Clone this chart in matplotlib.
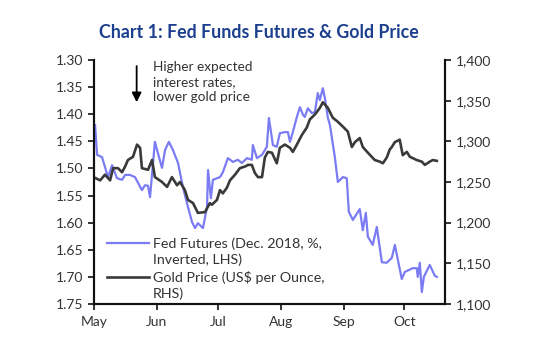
import matplotlib
matplotlib.use("Agg")
import matplotlib.pyplot as plt
from matplotlib.lines import Line2D
import pandas as pd

# Fed funds futures (Dec. 2018, %, inverted) -- day offsets from 1 May 2017
fed_days = [0.5, 1.5, 3.9, 6.9, 8.9, 11.3, 13.8, 15.3, 17.7, 20.2, 23.6, 25.1, 26.6, 27.6,
            30.0, 31.5, 33.5, 35.0, 36.9, 38.9, 41.4, 43.8, 46.3, 48.3, 49.8, 51.2, 53.7,
            55.7, 56.2, 57.6, 58.6, 62.1, 63.5, 66.0, 68.5, 70.9, 72.9, 75.4, 77.8, 78.3,
            80.3, 82.8, 85.2, 86.2, 88.2, 90.1, 91.6, 94.1, 95.6, 96.6, 98.0, 100.0, 101.5,
            103.0, 103.9, 105.4, 107.4, 108.9, 110.3, 111.3, 112.8, 113.8, 115.3, 116.3,
            118.7, 120.2, 122.7, 124.6, 125.6, 127.6, 131.0, 132.5, 134.0, 135.0, 137.4,
            139.4, 141.9, 144.3, 146.8, 148.3, 151.7, 153.2, 157.1, 159.1, 159.6, 160.6,
            161.6, 162.6, 165.5, 168.0, 169.0]
fed_vals = [1.420, 1.475, 1.479, 1.516, 1.494, 1.518, 1.521, 1.512, 1.512, 1.516, 1.540, 1.531,
            1.532, 1.553, 1.451, 1.472, 1.499, 1.466, 1.451, 1.466, 1.490, 1.534, 1.571, 1.599,
            1.610, 1.601, 1.610, 1.571, 1.503, 1.555, 1.521, 1.516, 1.507, 1.481, 1.488, 1.484,
            1.490, 1.481, 1.484, 1.457, 1.481, 1.475, 1.460, 1.407, 1.457, 1.460, 1.435, 1.433,
            1.433, 1.451, 1.433, 1.405, 1.387, 1.401, 1.405, 1.389, 1.398, 1.396, 1.361, 1.374,
            1.352, 1.370, 1.407, 1.420, 1.479, 1.525, 1.516, 1.518, 1.580, 1.595, 1.575, 1.614,
            1.582, 1.626, 1.641, 1.608, 1.673, 1.674, 1.665, 1.641, 1.704, 1.691, 1.684, 1.684,
            1.700, 1.674, 1.728, 1.700, 1.678, 1.698, 1.700]

# Gold price (US$ per ounce) -- day offsets from 1 May 2017
gold_days = [0.5, 3.0, 5.4, 7.9, 9.4, 11.8, 13.8, 15.3, 16.7, 19.2, 21.2, 22.7, 23.6, 26.6,
             28.6, 30.0, 33.5, 36.0, 38.4, 40.9, 42.4, 44.8, 46.3, 48.8, 51.2, 54.7, 57.1,
             58.1, 60.6, 62.1, 63.5, 65.5, 67.0, 69.5, 71.9, 74.4, 75.9, 77.8, 79.3, 80.8,
             82.8, 84.2, 85.7, 87.7, 90.1, 91.6, 94.1, 96.6, 98.0, 100.0, 102.5, 104.9, 106.4,
             108.9, 111.3, 112.8, 115.3, 117.7, 120.2, 122.7, 125.1, 127.1, 128.6, 131.0,
             132.5, 135.0, 138.4, 140.9, 142.4, 144.3, 145.8, 146.8, 148.3, 150.7, 152.2,
             154.2, 155.7, 159.1, 161.6, 163.1, 165.5, 167.0, 169.0]
gold_vals = [1255, 1252, 1259, 1252, 1267, 1267, 1262, 1269, 1277, 1281, 1296, 1292, 1267, 1265,
             1277, 1256, 1250, 1244, 1256, 1246, 1250, 1240, 1228, 1224, 1212, 1213, 1224, 1222,
             1228, 1240, 1236, 1243, 1252, 1259, 1267, 1269, 1271, 1271, 1261, 1256, 1256, 1280,
             1287, 1286, 1273, 1292, 1296, 1292, 1287, 1296, 1308, 1317, 1327, 1333, 1341, 1348,
             1341, 1329, 1324, 1318, 1312, 1293, 1299, 1304, 1293, 1286, 1277, 1275, 1273, 1280,
             1290, 1293, 1299, 1302, 1283, 1287, 1281, 1277, 1275, 1271, 1275, 1277, 1276]

start_date = "2017-05-01"
month_ticks = ["2017-05-01", "2017-06-01", "2017-07-01", "2017-08-01", "2017-09-01", "2017-10-01"]
month_labels = ["May", "Jun", "Jul", "Aug", "Sep", "Oct"]
left_ticks = [1.30, 1.35, 1.40, 1.45, 1.50, 1.55, 1.60, 1.65, 1.70, 1.75]
right_ticks = [1100, 1150, 1200, 1250, 1300, 1350, 1400]

title = "Chart 1: Fed Funds Futures & Gold Price"
fed_label = ["Fed Futures (Dec. 2018, %,", "Inverted, LHS)"]
gold_label = ["Gold Price (US$ per Ounce,", "RHS)"]
note = "Higher expected\ninterest rates,\nlower gold price"

plt.rcParams['font.family'] = ['Lato', 'DejaVu Sans']

base = pd.Timestamp(start_date)
fed_x = [base + pd.Timedelta(days=d) for d in fed_days]
gold_x = [base + pd.Timedelta(days=d) for d in gold_days]

fig = plt.figure(figsize=(5.5, 3.4), dpi=100)
ax = fig.add_axes([0.171, 0.106, 0.638, 0.7175])
ax2 = ax.twinx()

blue = '#7b7cf4'
dark = '#3a3a3a'

l1, = ax.plot(fed_x, fed_vals, color=blue, lw=1.6)
l2, = ax2.plot(gold_x, gold_vals, color=dark, lw=1.9)

ax.set_ylim(1.75, 1.30)
ax.set_yticks(left_ticks)
ax.set_yticklabels([f"{t:.2f}" for t in left_ticks])
ax2.set_ylim(1100, 1400)
ax2.set_yticks(right_ticks)
ax2.set_yticklabels([f"{t:,}" for t in right_ticks])

ax.set_xlim(pd.Timestamp("2017-05-01"), pd.Timestamp("2017-10-21"))
ax.set_xticks([pd.Timestamp(m) for m in month_ticks])
ax.set_xticklabels(month_labels)

for a in (ax, ax2):
    a.spines['top'].set_visible(False)
    for s in ('left', 'right', 'bottom'):
        a.spines[s].set_linewidth(1.5)
        a.spines[s].set_color('#111111')
    a.tick_params(axis='both', direction='out', length=4, width=1.2,
                  labelsize=10, labelcolor='#333333', color='#111111')
ax.tick_params(axis='x', pad=5)

fig.text(0.471, 0.903, title, ha='center', va='center', fontsize=12.8,
         fontweight='bold', color='#1d3f8f')

ax.annotate('', xy=(pd.Timestamp("2017-05-22"), 1.383),
            xytext=(pd.Timestamp("2017-05-22"), 1.306),
            arrowprops=dict(arrowstyle='-|>', color='black', lw=1.3, mutation_scale=14))
ax.text(pd.Timestamp("2017-05-30"), 1.302, note, ha='left', va='top',
        fontsize=9.8, color='#333333', linespacing=1.3)

blank = Line2D([], [], color='none')
leg = ax.legend(handles=[l1, blank, l2, blank],
                labels=[fed_label[0], fed_label[1], gold_label[0], gold_label[1]],
                loc='lower left', bbox_to_anchor=(0.015, -0.018),
                frameon=False, fontsize=10.3, handlelength=2.9, handletextpad=0.3,
                labelspacing=0.3, borderaxespad=0.15)
for t in leg.get_texts():
    t.set_color('#333333')

fig.savefig("out.png", dpi=100)
